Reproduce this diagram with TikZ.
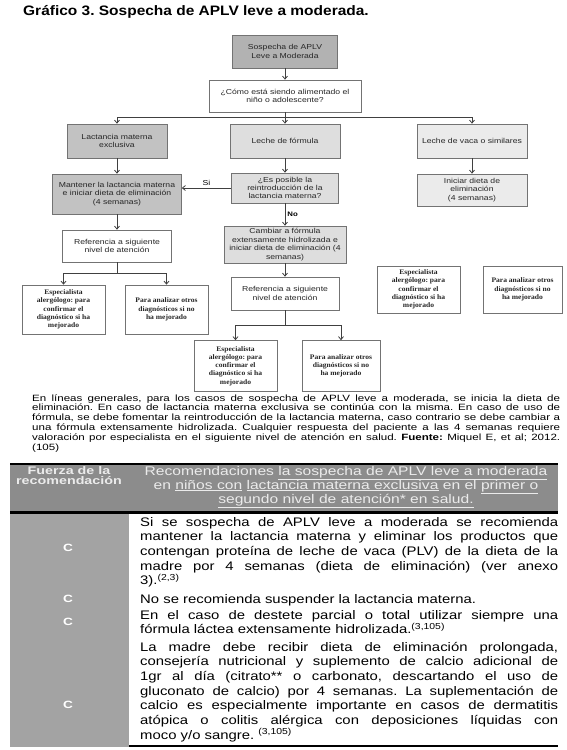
\documentclass[tikz,border=0pt]{standalone}
\usepackage{fontspec}
\setmainfont{Liberation Sans}
\newfontfamily\fcfont[FakeStretch=1.2]{Liberation Sans}
\newfontfamily\fcnob[FakeStretch=1.2]{Liberation Sans Bold}
\newfontfamily\fcbold[FakeStretch=1.08]{Liberation Serif Bold}
\newfontfamily\hdfont[FakeStretch=1.24]{Liberation Sans}
\newfontfamily\hdbold[FakeStretch=1.3]{Liberation Sans Bold}
\newfontfamily\pfont[FakeStretch=1.27]{Liberation Sans}
\newfontfamily\pbold[FakeStretch=1.27]{Liberation Sans Bold}
\newfontfamily\bodyfont[FakeStretch=1.2]{Liberation Sans}
\newfontfamily\ttlfont[FakeStretch=1.13]{Liberation Sans Bold}
\usetikzlibrary{arrows.meta}
\hbadness=10000 \vbadness=10000 \hfuzz=6pt
\frenchspacing
\tikzset{
  fc/.style={draw=black!55, line width=0.7pt, align=center, inner sep=1pt,
    font=\fcfont\fontsize{7.2}{8.4}\selectfont, text=black!85},
  fcb/.style={fc, font=\fcbold\fontsize{7}{8.2}\selectfont},
  conn/.style={draw=black!75, line width=0.8pt},
  arr/.style={conn, -{Straight Barb[length=3pt,width=5pt]}},
  txt/.style={anchor=base west, inner sep=0pt, font=\bodyfont\fontsize{12.4}{14.7}\selectfont},
  cmark/.style={inner sep=0pt, text=white, font=\hdbold\fontsize{10.5}{12}\selectfont},
}
\begin{document}
\begin{tikzpicture}[x=1pt,y=-1pt]
\useasboundingbox (0,0) rectangle (567,750);
\fill[white] (0,0) rectangle (567,750);

% title
\node[anchor=base west, inner sep=0pt, font=\ttlfont\fontsize{13.7}{15}\selectfont] (title) at (23,15.5) {Gráfico 3. Sospecha de APLV leve a moderada.};

% flowchart
\node[fc, fill=black!30, minimum width=105pt, minimum height=33pt] (s0) at (285,51.5) {Sospecha de APLV\\Leve a Moderada};
\node[fc, minimum width=152pt, minimum height=32pt] (s1) at (285,96) {¿Cómo está siendo alimentado el\\niño o adolescente?};
\node[fc, fill=black!24, minimum width=100pt, minimum height=34pt] (lact) at (117,141) {Lactancia materna\\exclusiva};
\node[fc, fill=black!13, minimum width=110pt, minimum height=34pt] (form) at (285,141) {Leche de fórmula};
\node[fc, fill=black!8, minimum width=110pt, minimum height=34pt] (vaca) at (472,141) {Leche de vaca o similares};
\node[fc, fill=black!24, minimum width=129pt, minimum height=40pt] (mant) at (117,194) {Mantener la lactancia materna\\e iniciar dieta de eliminación\\(4 semanas)};
\node[fc, fill=black!13, minimum width=107pt, minimum height=30pt] (posi) at (285,188) {¿Es posible la\\reintroducción de la\\lactancia materna?};
\node[fc, fill=black!8, minimum width=110pt, minimum height=32pt] (inic) at (472,190) {Iniciar dieta de\\eliminación\\(4 semanas)};
\node[fc, fill=black!13, minimum width=122pt, minimum height=37pt] (camb) at (285,244.5) {Cambiar a fórmula\\extensamente hidrolizada e\\iniciar dieta de eliminación (4\\semanas)};
\node[fc, minimum width=109pt, minimum height=32pt] (ref1) at (117,246) {Referencia a siguiente\\nivel de atención};
\node[fc, minimum width=108pt, minimum height=33pt] (ref2) at (285,293.5) {Referencia a siguiente\\nivel de atención};
\node[fcb, minimum width=83pt, minimum height=49pt] (esp1) at (63.5,309.5) {Especialista\\alergólogo: para\\confirmar el\\diagnóstico si ha\\mejorado};
\node[fcb, minimum width=83pt, minimum height=49pt] (para1) at (166.5,309.5) {Para analizar otros\\diagnósticos si no\\ha mejorado};
\node[fcb, minimum width=83pt, minimum height=47pt] (esp2) at (418.5,289.5) {Especialista\\alergólogo: para\\confirmar el\\diagnóstico si ha\\mejorado};
\node[fcb, minimum width=79pt, minimum height=47pt] (para2) at (522.5,289.5) {Para analizar otros\\diagnósticos si no\\ha mejorado};
\node[fcb, minimum width=83pt, minimum height=51pt] (esp3) at (235.5,366) {Especialista\\alergólogo: para\\confirmar el\\diagnóstico si ha\\mejorado};
\node[fcb, minimum width=78pt, minimum height=51pt] (para3) at (341,366) {Para analizar otros\\diagnósticos si no\\ha mejorado};

\coordinate (jc) at (285,117);
\coordinate (jl) at (117,117);
\coordinate (jr) at (472,117);
\coordinate (b1) at (117,273);
\coordinate (b1l) at (63.5,273);
\coordinate (b1r) at (166.5,273);
\coordinate (b2) at (285,325);
\coordinate (b2l) at (235.5,325);
\coordinate (b2r) at (341,325);

\draw[arr] (s0) -- (s1);
\draw[conn] (s1.south) -- (jc);
\draw[conn] (jl) -- (jr);
\draw[arr] (jl) -- (lact.north);
\draw[arr] (jc) -- (form.north);
\draw[arr] (jr) -- (vaca.north);
\draw[arr] (lact) -- (mant);
\draw[arr] (form) -- (posi);
\draw[arr] (vaca) -- (inic);
\draw[arr] (posi.west) -- (posi.west -| mant.east) node[midway, above, inner sep=2pt, font=\fcfont\fontsize{7.2}{8.4}\selectfont] (si) {Si};
\draw[arr] (posi) -- (camb) node[midway, right, inner sep=2pt, font=\fcnob\fontsize{6.5}{8}\selectfont] (no) {No};
\draw[arr] (mant) -- (ref1);
\draw[arr] (camb) -- (ref2);
\draw[conn] (ref1.south) -- (b1);
\draw[conn] (b1l) -- (b1r);
\draw[arr] (b1l) -- (esp1.north);
\draw[arr] (b1r) -- (para1.north);
\draw[conn] (ref2.south) -- (b2);
\draw[conn] (b2l) -- (b2r);
\draw[arr] (b2l) -- (esp3.north);
\draw[arr] (b2r) -- (para3.north);

% paragraph
\node[anchor=base west, inner sep=0pt, font=\pfont\fontsize{9.1}{9.8}\selectfont] (para) at (32,401) {\parbox[t]{528pt}{\noindent En líneas generales, para los casos de sospecha de APLV leve a moderada, se inicia la dieta de\linebreak eliminación. En caso de lactancia materna exclusiva se continúa con la misma. En caso de uso de\linebreak fórmula, se debe fomentar la reintroducción de la lactancia materna, caso contrario se debe cambiar a\linebreak una fórmula extensamente hidrolizada. Cualquier respuesta del paciente a las 4 semanas requiere\linebreak valoración por especialista en el siguiente nivel de atención en salud. {\pbold Fuente:} Miquel E, et al; 2012.\linebreak (105)}};

% table
\fill[black!45] (10,464) rectangle (558,512);
\fill[black!36] (10,513) rectangle (129,747);
\draw[line width=2.5pt] (10,464) -- (558,464);
\draw[line width=2.5pt] (10,512.5) -- (558,512.5);
\draw[line width=2pt] (129,745.5) -- (558,745.5);

\node[anchor=base, inner sep=0pt, text=white!92!black, font=\hdbold\fontsize{11}{10.5}\selectfont] (hl) at (69,474) {\parbox[t]{118pt}{\centering Fuerza de la\\recomendación}};
\node[anchor=base, inner sep=0pt, text=white!92!black, font=\hdfont\fontsize{12.6}{14}\selectfont] (hr) at (346,475) {\parbox[t]{430pt}{\centering Recomendaciones \underline{la sospecha de APLV leve a moderada}\\en \underline{niños con} \underline{lactancia materna exclusiva} en el \underline{primer o}\\\underline{segundo nivel de atención* en salud.}}};

\node[txt] (r1) at (140,526) {\parbox[t]{418pt}{\noindent Si se sospecha de APLV leve a moderada se recomienda\linebreak mantener la lactancia materna y eliminar los productos que\linebreak contengan proteína de leche de vaca (PLV) de la dieta de la\linebreak madre por 4 semanas (dieta de eliminación) (ver anexo\linebreak 3).\textsuperscript{(2,3)}}};
\node[txt] (r2) at (140,603) {\parbox[t]{418pt}{\noindent No se recomienda suspender la lactancia materna.}};
\node[txt] (r3) at (140,619) {\parbox[t]{418pt}{\noindent En el caso de destete parcial o total utilizar siempre una\linebreak fórmula láctea extensamente hidrolizada.\textsuperscript{(3,105)}}};
\node[txt] (r4) at (140,651) {\parbox[t]{418pt}{\noindent La madre debe recibir dieta de eliminación prolongada,\linebreak consejería nutricional y suplemento de calcio adicional de\linebreak 1gr al día (citrato** o carbonato, descartando el uso de\linebreak gluconato de calcio) por 4 semanas. La suplementación de\linebreak calcio es especialmente importante en casos de dermatitis\linebreak atópica o colitis alérgica con deposiciones líquidas con\linebreak moco y/o sangre. \textsuperscript{(3,105)}}};

\node[cmark] (c1) at (68,548) {C};
\node[cmark] (c2) at (68,599) {C};
\node[cmark] (c3) at (68,622) {C};
\node[cmark] (c4) at (68,705) {C};
\end{tikzpicture}
\end{document}
